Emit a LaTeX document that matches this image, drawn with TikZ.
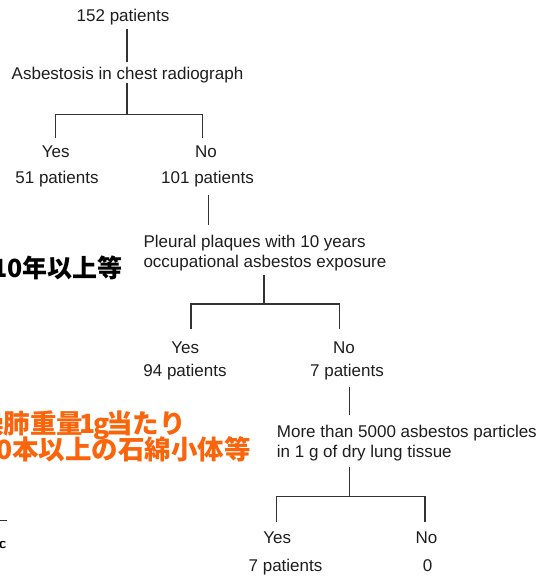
\documentclass[tikz,border=0pt]{standalone}
\usepackage{fontspec}
\setmainfont{Liberation Sans}
\newfontfamily\jp{Noto Sans CJK JP}
\definecolor{txtc}{RGB}{30,30,30}
\definecolor{linec}{RGB}{50,50,50}
\definecolor{orng}{RGB}{250,100,10}
\begin{document}
\begin{tikzpicture}[x=1pt,y=-1pt,
  txt/.style={font=\fontsize{17}{20}\selectfont, text=txtc, inner sep=0pt, anchor=base},
  txtl/.style={txt, anchor=base west},
  ln/.style={draw=linec, line width=1.4pt},
  jpk/.style={font=\jp\bfseries\fontsize{25}{30}\selectfont, inner sep=0pt, anchor=base east},
  jpo/.style={jpk, font=\jp\bfseries\fontsize{26.5}{30}\selectfont, text=orng}]
\useasboundingbox (0,0) rectangle (539,576);
\fill[white] (0,0) rectangle (539,576);
\clip (0,0) rectangle (539,576);

% side notes (cut off at the left edge)
\node[jpk] (jp1) at (123,277) {10年以上等};
\node[jpo] (jp2) at (186,433) {燥肺重量\kern-3.5pt 1\kern-2.5pt g\kern-3.5pt 当たり};
\node[jpo] (jp3) at (251,459.5) {0本以上の石綿小体等};
\coordinate (cutA) at (0,520.5);
\coordinate (cutB) at (6.5,520.5);
\draw[ln] (cutA) -- (cutB);
\node[font=\sffamily\bfseries\fontsize{15}{17}\selectfont, inner sep=0pt, anchor=base] (cutc) at (2.5,548) {c};

% tree 1
\node[txt] (n152) at (123,21.5) {152 patients};
\node[txt] (asb) at (127.5,79) {Asbestosis in chest radiograph};
\node[txt] (yes1) at (55.8,157) {Yes};
\node[txt] (no1) at (206,157) {No};
\node[txt] (p51) at (57,183.5) {51 patients};
\node[txt] (p101) at (207.5,183.5) {101 patients};

\coordinate (t1a) at (127,29);
\coordinate (t1b) at (127,62);
\coordinate (t1c) at (127,83);
\coordinate (t1j) at (127,114.5);
\coordinate (t1l) at (55.7,114.5);
\coordinate (t1r) at (202.7,114.5);
\coordinate (t1lb) at (55.7,137.5);
\coordinate (t1rb) at (202.7,137.5);
\coordinate (t1d) at (208.5,195);
\coordinate (t1e) at (208.5,224.5);
\draw[ln] (t1a) -- (t1b);
\draw[ln] (t1c) -- (t1j);
\draw[ln] (t1lb) -- (t1l) -- (t1r) -- (t1rb);
\draw[ln] (t1d) -- (t1e);

% tree 2
\node[txtl] (pl1) at (143.3,247) {Pleural plaques with 10 years};
\node[txtl] (pl2) at (143.3,267) {occupational asbestos exposure};
\node[txt] (yes2) at (185.3,353) {Yes};
\node[txt] (no2) at (344,353) {No};
\node[txt] (p94) at (185,376.5) {94 patients};
\node[txt] (p7a) at (347,376.5) {7 patients};

\coordinate (t2c) at (264,275);
\coordinate (t2j) at (264,304);
\coordinate (t2l) at (191,304);
\coordinate (t2r) at (339.3,304);
\coordinate (t2lb) at (191,328.5);
\coordinate (t2rb) at (339.3,328.5);
\coordinate (t2d) at (349.3,387);
\coordinate (t2e) at (349.3,415);
\draw[ln] (t2c) -- (t2j);
\draw[ln] (t2lb) -- (t2l) -- (t2r) -- (t2rb);
\draw[ln] (t2d) -- (t2e);

% tree 3
\node[txtl] (mt1) at (276.7,437) {More than 5000 asbestos particles};
\node[txtl] (mt2) at (276.7,457) {in 1 g of dry lung tissue};
\node[txt] (yes3) at (277.2,543.3) {Yes};
\node[txt] (no3) at (426.5,543.3) {No};
\node[txt] (p7b) at (285.5,571.5) {7 patients};
\node[txt] (p0) at (427.7,571.5) {0};

\coordinate (t3c) at (349.3,467);
\coordinate (t3j) at (349.3,496.7);
\coordinate (t3l) at (276.7,496.7);
\coordinate (t3r) at (425,496.7);
\coordinate (t3lb) at (276.7,521.7);
\coordinate (t3rb) at (425,521.7);
\draw[ln] (t3c) -- (t3j);
\draw[ln] (t3lb) -- (t3l) -- (t3r) -- (t3rb);
\end{tikzpicture}
\end{document}
